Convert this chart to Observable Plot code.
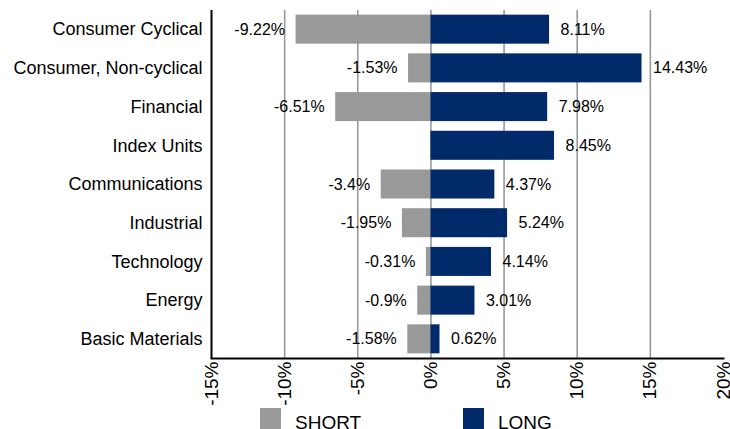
<!DOCTYPE html>
<html>
<head>
<meta charset="utf-8">
<script src="https://cdn.jsdelivr.net/npm/d3@7"></script>
<script src="https://cdn.jsdelivr.net/npm/@observablehq/plot@0.6"></script>
<style>
  html, body { margin: 0; padding: 0; background: #fff; }
  body { width: 730px; height: 429px; overflow: hidden; font-family: "Liberation Sans", Arial, sans-serif; }
  #legend { position: relative; height: 40px; }
  .sw { position: absolute; top: 0px; width: 21px; height: 21px; }
  .lt { position: absolute; top: 4px; font-size: 19px; line-height: 22px; color: #000; }
</style>
</head>
<body>
<div id="chart"></div>
<div id="legend">
  <div class="sw" style="left:260px;background:#999999"></div>
  <div class="lt" style="left:295px">SHORT</div>
  <div class="sw" style="left:463px;background:#002a6a"></div>
  <div class="lt" style="left:498px">LONG</div>
</div>
<script>
const categories = ["Consumer Cyclical", "Consumer, Non-cyclical", "Financial", "Index Units", "Communications", "Industrial", "Technology", "Energy", "Basic Materials"];
const shortVals = [-9.22, -1.53, -6.51, null, -3.4, -1.95, -0.31, -0.9, -1.58];
const longVals = [8.11, 14.43, 7.98, 8.45, 4.37, 5.24, 4.14, 3.01, 0.62];
const xTicks = [-15, -10, -5, 0, 5, 10, 15, 20];
const gridTicks = [-10, -5, 0, 5, 10, 15];

const shortData = categories.map((c, i) => ({category: c, value: shortVals[i]})).filter(d => d.value != null);
const longData = categories.map((c, i) => ({category: c, value: longVals[i]}));
const fmt = v => v + "%";

const SHORT = "#999999", LONG = "#002a6a";

const chart = Plot.plot({
  width: 730,
  height: 408,
  marginLeft: 211,
  marginRight: 7,
  marginTop: 10,
  marginBottom: 50,
  style: {fontFamily: "'Liberation Sans', Arial, sans-serif", background: "#fff", color: "#000"},
  x: {domain: [-15, 20], ticks: xTicks, tickFormat: fmt, label: null},
  y: {domain: categories, paddingInner: 0.25, paddingOuter: 0.12, round: false, label: null},
  marks: [
    Plot.ruleX(gridTicks, {stroke: "#999", strokeWidth: 1.6}),
    Plot.barX(shortData, {y: "category", x1: 0, x2: "value", fill: SHORT}),
    Plot.barX(longData, {y: "category", x1: 0, x2: "value", fill: LONG}),
    Plot.text(shortData, {y: "category", x: "value", text: d => fmt(d.value), textAnchor: "end", dx: -11, fontSize: 16, fill: "#000"}),
    Plot.text(longData, {y: "category", x: "value", text: d => fmt(d.value), textAnchor: "start", dx: 11, fontSize: 16, fill: "#000"}),
    Plot.axisY({tickSize: 0, tickPadding: 9, fontSize: 18, label: null}),
    Plot.axisX({ticks: xTicks, tickFormat: fmt, tickSize: 0, tickPadding: 3, tickRotate: -90, fontSize: 19, label: null}),
    Plot.ruleX([-15], {stroke: "#000", strokeWidth: 2}),
    Plot.frame({anchor: "bottom", stroke: "#000", strokeWidth: 2})
  ]
});
document.getElementById("chart").appendChild(chart);
</script>
</body>
</html>
